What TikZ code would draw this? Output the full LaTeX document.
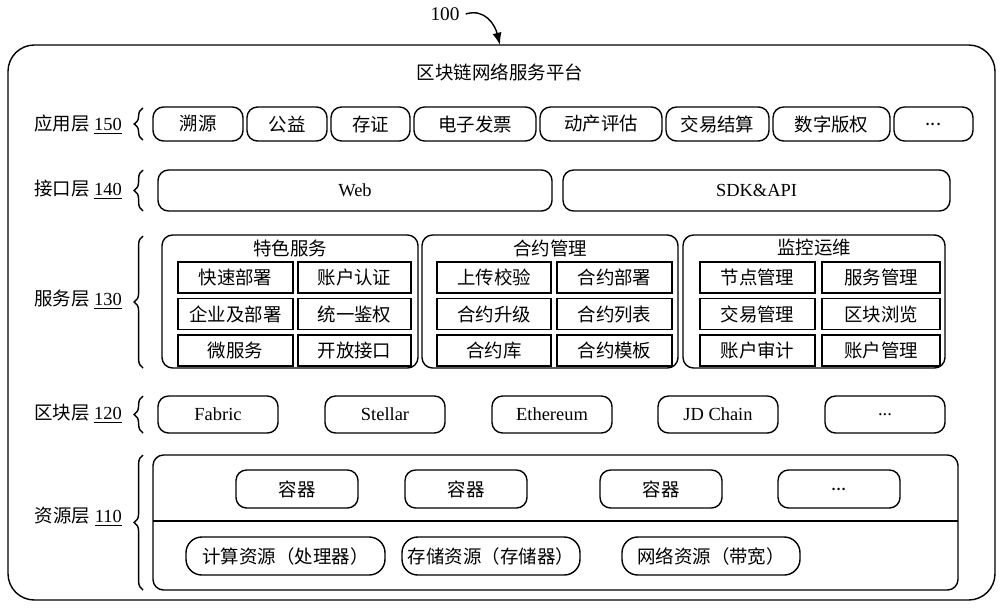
\documentclass[tikz,border=0pt]{standalone}
\usepackage{fontspec}
\setmainfont{Liberation Serif}
\newfontfamily\cjk{Noto Sans CJK SC}
\usetikzlibrary{arrows.meta,calc,positioning,decorations.pathreplacing}
\tikzset{
  box/.style={draw,rounded corners=6pt,line width=.8pt,font=\cjk\fontsize{10.5}{12}\selectfont},
  inbox/.style={draw,line width=.8pt,font=\cjk\fontsize{10.5}{12}\selectfont},
  oval/.style={draw,rounded corners=9pt,line width=.8pt,font=\cjk\fontsize{10.5}{12}\selectfont},
  lyr/.style={anchor=east,font=\fontsize{10.5}{12}\selectfont},
  brc/.style={decorate,decoration={brace,amplitude=5pt},line width=.8pt}
}
\newcommand{\mydots}{...}
\begin{document}
\begin{tikzpicture}[x=0.02cm,y=-0.02cm]
\useasboundingbox (0,0) rectangle (1000,609);
% outer frame
\draw[line width=.8pt,rounded corners=15pt] (8,45) rectangle (995,600);
\node (num) at (445,14) {\fontsize{11}{12}\selectfont 100};
\coordinate (numtip) at (500,45);
\draw[-{Latex[length=7pt]},line width=.8pt] (num.east) .. controls (485,8) and (495,25) .. (numtip);
\node[font=\cjk\fontsize{10.5}{12}\selectfont] (title) at (500,72) {区块链网络服务平台};
% layer labels
\foreach \name/\no/\y/\ya/\yb in {应用层/150/125/108/140,接口层/140/190/170/211,服务层/130/300/236/368,区块层/120/414/396/433,资源层/110/517/455/590}{
  \node[lyr] (lab\no) at (128,\y) {{\cjk \name} \underline{\no}};
  \draw[brc] (143,\yb) -- (143,\ya);
}
% application layer
\foreach \a/\b/\t [count=\i] in {153/243/溯源,247/327/公益,331/410/存证,414/536/电子发票,540/662/动产评估,666/769/交易结算,773/890/数字版权,894/973/\mydots}{
  \draw[box] (\a,107) rectangle (\b,141) node[midway] (app\i) {\t};
}
% interface layer
\draw[box] (158,170) rectangle (552,211) node[midway,font=\fontsize{10.5}{12}\selectfont] (web) {Web};
\draw[box] (563,170) rectangle (950,211) node[midway,font=\fontsize{10.5}{12}\selectfont] (sdk) {SDK\&API};
% service layer
\foreach \gx/\gy/\t [count=\g] in {162/418/特色服务,422/678/合约管理,683/945/监控运维}{
  \draw[box] (\gx,235) rectangle (\gy,368);
  \node[font=\cjk\fontsize{10.5}{12}\selectfont] (grp\g) at ({(\gx+\gy)/2},248) {\t};
}
\foreach \a/\b/\r/\t [count=\i] in {
  178/293/0/快速部署,298/411/0/账户认证,178/293/1/企业及部署,298/411/1/统一鉴权,178/293/2/微服务,298/411/2/开放接口,
  437/551/0/上传校验,557/672/0/合约部署,437/551/1/合约升级,557/672/1/合约列表,437/551/2/合约库,557/672/2/合约模板,
  700/815/0/节点管理,822/940/0/服务管理,700/815/1/交易管理,822/940/1/区块浏览,700/815/2/账户审计,822/940/2/账户管理}{
  \draw[inbox] (\a,262+\r*36.5) rectangle (\b,293+\r*36.5) node[midway] (srv\i) {\t};
}
% block layer
\foreach \a/\t [count=\i] in {158/Fabric,325/Stellar,492/Ethereum,658/JD Chain,825/\mydots}{
  \draw[box] (\a,396) rectangle (\a+120,433) node[midway,font=\fontsize{10.5}{12}\selectfont] (chain\i) {\t};
}
% resource layer
\draw[box] (153,455) rectangle (958,590);
\draw[line width=.8pt] (153,521) -- (958,521);
\foreach \a/\t [count=\i] in {236/容器,405/容器,600/容器,778/\mydots}{
  \draw[box] (\a,470) rectangle (\a+122,508) node[midway] (ctr\i) {\t};
}
\foreach \a/\b/\t [count=\i] in {186/385/计算资源（处理器）,402/580/存储资源（存储器）,622/800/网络资源（带宽）}{
  \draw[oval] (\a,537) rectangle (\b,575) node[midway] (res\i) {\t};
}
\end{tikzpicture}
\end{document}
